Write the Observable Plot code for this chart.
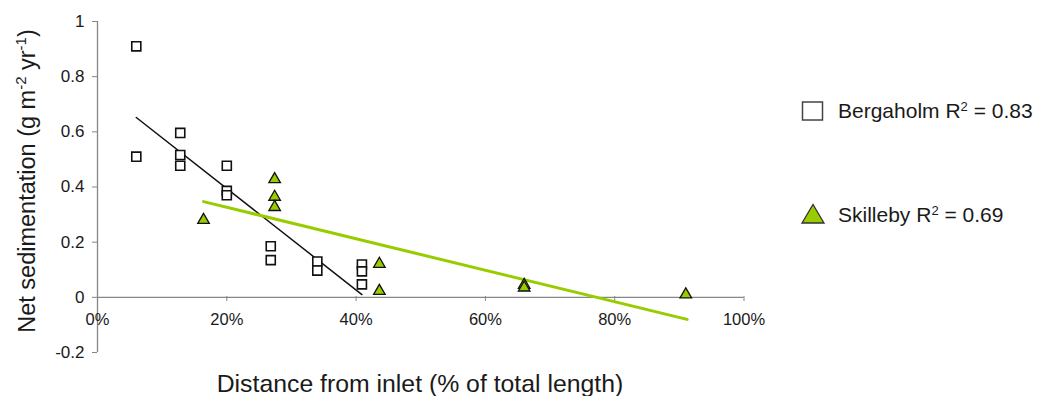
<!DOCTYPE html>
<html>
<head>
<meta charset="utf-8">
<script src="https://cdn.jsdelivr.net/npm/d3@7"></script>
<script src="https://cdn.jsdelivr.net/npm/@observablehq/plot@0.6"></script>
<style>
  body { margin: 0; background: #fff; }
  #chart { width: 1044px; height: 396px; }
</style>
</head>
<body>
<div id="chart"></div>
<script>
// Bergaholm stations: distance from inlet (% of total length) and net sedimentation
const bergaholmX = [6, 6, 12.8, 12.8, 12.8, 20, 20, 20, 26.8, 26.8, 34, 34, 40.9, 40.9, 40.9];
const bergaholmY = [0.91, 0.51, 0.596, 0.516, 0.477, 0.477, 0.386, 0.37, 0.185, 0.135, 0.13, 0.097, 0.119, 0.094, 0.047];

// Skilleby stations
const skillebyX = [16.4, 27.4, 27.4, 27.4, 43.6, 43.6, 66, 66, 91];
const skillebyY = [0.28, 0.428, 0.364, 0.327, 0.121, 0.023, 0.045, 0.035, 0.01];

// Linear trend lines (end points)
const bergaholmFitX = [6, 40.9];
const bergaholmFitY = [0.652, 0.01];
const skillebyFitX = [16.4, 91.2];
const skillebyFitY = [0.347, -0.08];

// Axis ticks
const xTicks = [0, 20, 40, 60, 80, 100];
const yTicks = [-0.2, 0, 0.2, 0.4, 0.6, 0.8, 1];

const series = [
  {name: "Bergaholm", r2: "0.83"},
  {name: "Skilleby", r2: "0.69"}
];

const green = "#99cc00";
const axisGray = "#868686";
const textColor = "#1a1a1a";
const font = "'Liberation Sans', Arial, sans-serif";

const bergaholm = bergaholmX.map((x, i) => ({x, y: bergaholmY[i]}));
const skilleby = skillebyX.map((x, i) => ({x, y: skillebyY[i]}));
const bergaholmFit = bergaholmFitX.map((x, i) => ({x, y: bergaholmFitY[i]}));
const skillebyFit = skillebyFitX.map((x, i) => ({x, y: skillebyFitY[i]}));

const chart = Plot.plot({
  width: 1044,
  height: 396,
  marginLeft: 97,
  marginRight: 300.5,
  marginTop: 21,
  marginBottom: 44,
  x: {domain: [0, 100]},
  y: {domain: [-0.2, 1]},
  style: {fontFamily: font, background: "white", color: textColor},
  marks: [
    Plot.ruleX([0], {stroke: axisGray, strokeWidth: 1.3}),
    Plot.ruleY([0], {stroke: axisGray, strokeWidth: 1.3}),
    Plot.axisY({
      ticks: yTicks, tickFormat: d => String(d), tickSize: 5, tickPadding: 8,
      fontSize: 17, stroke: axisGray, fill: textColor, label: null
    }),
    Plot.axisX({
      ticks: xTicks, tickFormat: d => d + "%", tickSize: 5, tickPadding: 12,
      fontSize: 16.5, stroke: axisGray, fill: textColor, label: null, dy: -56
    }),
    Plot.line(bergaholmFit, {x: "x", y: "y", stroke: "#111", strokeWidth: 1.5}),
    Plot.line(skillebyFit, {x: "x", y: "y", stroke: green, strokeWidth: 3}),
    Plot.dot(bergaholm, {x: "x", y: "y", symbol: "square", r: 5.1, fill: "white", stroke: "#111", strokeWidth: 1.6}),
    Plot.dot(skilleby, {x: "x", y: "y", symbol: "triangle", r: 4.3, fill: green, stroke: "#111", strokeWidth: 1.3})
  ]
});

document.getElementById("chart").appendChild(chart);

const svg = d3.select(chart);

// Axis titles
const yTitle = svg.append("text")
  .attr("transform", "translate(35,181) rotate(-90)")
  .attr("text-anchor", "middle")
  .attr("font-size", 23.5)
  .attr("font-family", font)
  .attr("fill", textColor);
yTitle.append("tspan").text("Net sedimentation (g m");
yTitle.append("tspan").attr("dy", -9).attr("font-size", 15).text("-2");
yTitle.append("tspan").attr("dy", 9).text(" yr");
yTitle.append("tspan").attr("dy", -9).attr("font-size", 15).text("-1");
yTitle.append("tspan").attr("dy", 9).text(")");

svg.append("text")
  .attr("x", 420).attr("y", 392)
  .attr("text-anchor", "middle")
  .attr("font-size", 24.8)
  .attr("font-family", font)
  .attr("fill", textColor)
  .text("Distance from inlet (% of total length)");

// Legend
const legend = svg.append("g")
  .attr("font-family", font)
  .attr("fill", textColor)
  .attr("font-size", 21)
  .attr("text-anchor", "start");
legend.append("rect")
  .attr("x", 802.5).attr("y", 102).attr("width", 20).attr("height", 18)
  .attr("fill", "white").attr("stroke", "#444").attr("stroke-width", 1.5);
legend.append("polygon")
  .attr("points", "802,223 824,223 813,204.5")
  .attr("fill", green).attr("stroke", "#333").attr("stroke-width", 1.3);

[118, 221.5].forEach((baseline, i) => {
  const t = legend.append("text").attr("x", 838).attr("y", baseline).attr("text-anchor", "start");
  t.append("tspan").text(series[i].name + " R");
  t.append("tspan").attr("dy", -7).attr("font-size", 13).text("2");
  t.append("tspan").attr("dy", 7).text(" = " + series[i].r2);
});
</script>
</body>
</html>
